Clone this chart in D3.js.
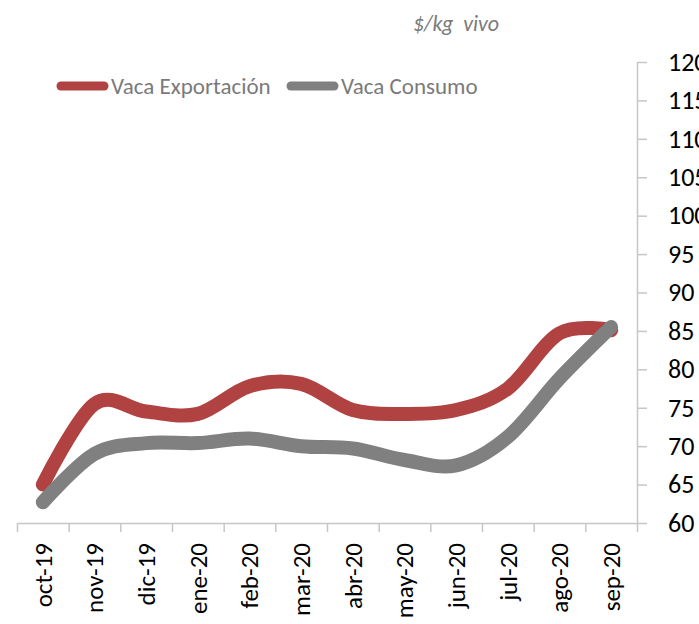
<!DOCTYPE html>
<html>
<head>
<meta charset="utf-8">
<script src="https://cdn.jsdelivr.net/npm/d3@7"></script>
<style>
  body { margin: 0; background: #fff; }
  svg { display: block; font-family: Carlito, Calibri, Lato, sans-serif; }
  .yAxis path, .yAxis line, .xAxis path, .xAxis line, .xTicks path, .xTicks line { stroke: #c6c6c6; stroke-width: 1.5; }
</style>
</head>
<body>
<svg id="svg" width="699" height="624"></svg>
<script>
var months = ['oct-19','nov-19','dic-19','ene-20','feb-20','mar-20','abr-20','may-20','jun-20','jul-20','ago-20','sep-20'];
var exportacion = [65.0, 75.5, 74.5, 74.2, 77.8, 78.1, 74.7, 74.2, 74.7, 77.5, 84.7, 85.1];
var consumo = [62.7, 69.0, 70.4, 70.4, 71.0, 70.0, 69.7, 68.2, 67.5, 71.2, 78.8, 85.5];
var yTicks = [60, 65, 70, 75, 80, 85, 90, 95, 100, 105, 110, 115, 120];

var series = [
    {name: 'Vaca Exportación', values: exportacion, color: '#b04341'},
    {name: 'Vaca Consumo', values: consumo, color: '#808080'}
];

var svg = d3.select("#svg");

var plot = {left: 17, right: 637, top: 62, bottom: 523};

var xScale = d3.scaleBand()
    .domain(months)
    .range([plot.left, plot.right])
    .padding(0);

var yScale = d3.scaleLinear()
    .domain([60, 120])
    .range([plot.bottom, plot.top]);

// eje x con las etiquetas giradas
var xAxis = svg.append("g")
    .classed("xAxis", true)
    .attr('transform', 'translate(0,' + plot.bottom + ')')
    .call(d3.axisBottom(xScale).tickSize(0).tickPadding(0));
xAxis.select(".domain").remove();
xAxis.selectAll("text")
    .attr("transform", "rotate(-90)")
    .attr("x", -20)
    .attr("y", 0)
    .attr("dy", "0.35em")
    .attr("text-anchor", "end")
    .style("font-size", "25px")
    .style("font-family", "Carlito, Calibri, Lato, sans-serif")
    .attr("fill", "#000");

// marcas entre categorias
var tickScale = d3.scaleLinear().domain([0, months.length]).range([plot.left, plot.right]);
svg.append("g")
    .classed("xTicks", true)
    .attr('transform', 'translate(0,' + plot.bottom + ')')
    .call(d3.axisBottom(tickScale).ticks(months.length).tickSize(9).tickSizeOuter(0).tickFormat(""));

// eje y a la derecha
var yAxis = svg.append("g")
    .classed("yAxis", true)
    .attr('transform', 'translate(' + plot.right + ',0)')
    .call(d3.axisRight(yScale).tickValues(yTicks).tickSize(10).tickSizeOuter(0).tickPadding(21));
yAxis.selectAll("text")
    .style("font-size", "26px")
    .style("font-family", "Carlito, Calibri, Lato, sans-serif")
    .attr("fill", "#000");

// lineas
var line = d3.line()
    .x(function (d, i) { return xScale(months[i]) + xScale.bandwidth() / 2; })
    .y(function (d) { return yScale(d); })
    .curve(d3.curveCardinal.tension(0));

svg.append("g").selectAll("path").data(series).enter()
    .append("path")
    .attr("d", function (s) { return line(s.values); })
    .attr("fill", "none")
    .attr("stroke", function (s) { return s.color; })
    .attr("stroke-width", 14)
    .attr("stroke-linecap", "round")
    .attr("stroke-linejoin", "round");

// leyenda
var legendX = [61, 291];
var legend = svg.append("g").selectAll("g").data(series).enter()
    .append("g")
    .attr("transform", function (s, i) { return 'translate(' + legendX[i] + ',86)'; });
legend.append("line")
    .attr("x1", 0).attr("x2", 43)
    .attr("stroke", function (s) { return s.color; })
    .attr("stroke-width", 9)
    .attr("stroke-linecap", "round");
legend.append("text")
    .attr("x", 50)
    .attr("dy", "0.35em")
    .attr("fill", "#7a7a7a")
    .style("font-size", "23px")
    .text(function (s) { return s.name; });

// unidad
svg.append("text")
    .attr("x", 499)
    .attr("y", 23)
    .attr("dy", "0.35em")
    .attr("text-anchor", "end")
    .attr("fill", "#7a7a7a")
    .style("font-size", "22px")
    .style("font-style", "italic")
    .style("white-space", "pre")
    .text("$/kg  vivo");
</script>
</body>
</html>
